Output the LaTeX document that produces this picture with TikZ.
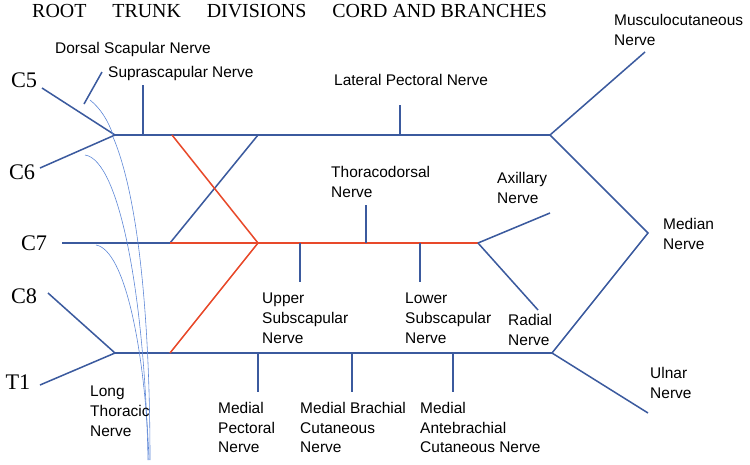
\documentclass[tikz,border=0pt]{standalone}
\usepackage{fontspec}
\setmainfont{Liberation Serif}
\newfontfamily\labelfont{Liberation Sans}
\definecolor{nervecol}{HTML}{3B5A9E}
\definecolor{cordcol}{HTML}{E8492A}
\definecolor{thincol}{HTML}{5C86D6}
\tikzset{nerve/.style={draw=nervecol, line width=1.3pt},
         cord/.style={draw=cordcol, line width=1.3pt},
         thin/.style={draw=thincol, line width=0.5pt},
         lbl/.style={font=\labelfont\fontsize{13.2}{16.8}\selectfont, align=left, anchor=north west, inner sep=0pt},
         root/.style={font=\fontsize{19}{19}\selectfont, inner sep=0pt}}
\begin{document}
\begin{tikzpicture}[x=0.03cm, y=-0.03cm]
\useasboundingbox (0,0) rectangle (750,464);
% header
\node [anchor=north west, inner sep=0pt, font=\fontsize{17}{17}\selectfont] (head) at (32,4) {ROOT\hspace{1.3em}TRUNK\hspace{1.3em}DIVISIONS\hspace{1.3em}CORD AND BRANCHES};
% roots
\node [root] (c5) at (24,80) {C5};
\node [root] (c6) at (22,172) {C6};
\node [root] (c7) at (34,243) {C7};
\node [root] (c8) at (24,296) {C8};
\node [root] (t1) at (18,382) {T1};
% points
\coordinate (c5s) at (42,88);   \coordinate (c6s) at (40,168);
\coordinate (c7s) at (62,243);  \coordinate (c8s) at (48,293);
\coordinate (t1s) at (40,385);
\coordinate (up) at (115,135);  \coordinate (lo) at (115,353);
\coordinate (upend) at (550,135); \coordinate (loend) at (552,353);
\coordinate (mid) at (170,243); \coordinate (midx) at (258,243);
\coordinate (post) at (478,243);
\coordinate (ds) at (84,104);
% trunks
\draw [nerve] (c5s) -- (up) (c6s) -- (up) (c8s) -- (lo) (t1s) -- (lo);
\draw [nerve] (ds) -- (102,72);
\draw [nerve] (up) -- (upend) (lo) -- (loend) (c7s) -- (mid);
\draw [nerve] (mid) -- (258,135);
\draw [cord] (172,135) -- (midx) -- (170,353);
\draw [cord] (mid) -- (post);
% branches
\draw [nerve] (143,135) -- (143,85);
\draw [nerve] (400,135) -- (400,105);
\draw [nerve] (366,243) -- (366,205);
\draw [nerve] (300,243) -- (300,282);
\draw [nerve] (420,243) -- (420,282);
\draw [nerve] (258,353) -- (258,392);
\draw [nerve] (352,353) -- (352,392);
\draw [nerve] (453,353) -- (453,392);
\draw [nerve] (upend) -- (645,52);
\draw [nerve] (upend) -- (648,233) -- (loend);
\draw [nerve] (loend) -- (648,413);
\draw [nerve] (post) -- (550,213);
\draw [nerve] (post) -- (538,310);
% long thoracic
\draw [thin] (113,137) .. controls (140,200) and (150,330) .. (150,460);
\draw [thin] (85,155) .. controls (120,160) and (145,300) .. (148,460);
\draw [thin] (96,245) .. controls (125,250) and (145,350) .. (149,460);
\draw [thin] (90,100) .. controls (100,108) and (108,120) .. (113,135);
% labels
\node [lbl] (dsn) at (55,42) {Dorsal Scapular Nerve};
\node [lbl] (ssn) at (108,66) {Suprascapular Nerve};
\node [lbl] (lpn) at (334,74) {Lateral Pectoral Nerve};
\node [lbl] (mcn) at (614,14) {Musculocutaneous\\Nerve};
\node [lbl] (tdn) at (331,166) {Thoracodorsal\\Nerve};
\node [lbl] (axn) at (497,172) {Axillary\\Nerve};
\node [lbl] (men) at (663,218) {Median\\Nerve};
\node [lbl] (usn) at (262,293) {Upper\\Subscapular\\Nerve};
\node [lbl] (lsn) at (405,293) {Lower\\Subscapular\\Nerve};
\node [lbl] (ran) at (508,314) {Radial\\Nerve};
\node [lbl] (uln) at (650,367) {Ulnar\\Nerve};
\node [lbl] (ltn) at (90,386) {Long\\Thoracic\\Nerve};
\node [lbl] (mpn) at (218,402) {Medial\\Pectoral\\Nerve};
\node [lbl] (mbn) at (300,402) {Medial Brachial\\Cutaneous\\Nerve};
\node [lbl] (man) at (420,402) {Medial\\Antebrachial\\Cutaneous Nerve};
\end{tikzpicture}
\end{document}
